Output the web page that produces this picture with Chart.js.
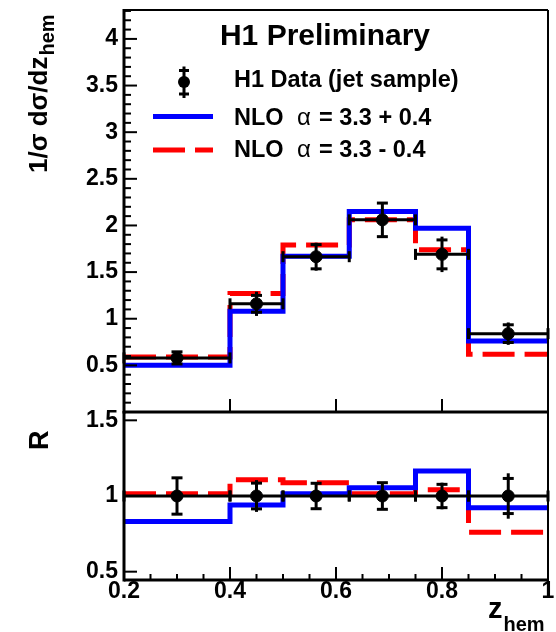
<!DOCTYPE html>
<html>
<head>
<meta charset="utf-8">
<script src="https://cdn.jsdelivr.net/npm/chart.js@4.4.0/dist/chart.umd.min.js"></script>
<style>
  body { margin: 0; background: #fff; }
  #wrap { position: relative; width: 556px; height: 632px; }
  canvas { position: absolute; left: 0; }
</style>
</head>
<body>
<div id="wrap">
  <canvas id="top" width="556" height="420" style="top:0"></canvas>
  <canvas id="ratio" width="556" height="232" style="top:400px"></canvas>
</div>
<script>
// z_hem bins
const binEdges = [0.2, 0.4, 0.5, 0.625, 0.75, 0.85, 1.0];
const binCenters = [0.3, 0.45, 0.5625, 0.6875, 0.8, 0.925];

// H1 data (jet sample)
const dataVals = [0.58, 1.16, 1.665, 2.06, 1.69, 0.84];
const dataStat = [0.065, 0.09, 0.13, 0.18, 0.155, 0.095];
const dataTot = [0.07, 0.13, 0.15, 0.185, 0.19, 0.12];

// NLO alpha = 3.3 +/- 0.4
const nloPlus = [0.50, 1.08, 1.67, 2.15, 1.97, 0.76];
const nloMinus = [0.59, 1.27, 1.79, 2.06, 1.74, 0.62];

// ratio panel
const ratioData = [1, 1, 1, 1, 1, 1];
const ratioStat = [0.12, 0.085, 0.084, 0.088, 0.077, 0.116];
const ratioTot = [0.12, 0.105, 0.084, 0.088, 0.088, 0.15];
const ratioPlus = [0.832, 0.94, 1.015, 1.055, 1.165, 0.922];
const ratioMinus = [1.015, 1.108, 1.088, 1.015, 1.042, 0.76];

// tick labels
const xTicks = [0.2, 0.4, 0.6, 0.8, 1];
const yTicksTop = [0.5, 1, 1.5, 2, 2.5, 3, 3.5, 4];
const yTicksRatio = [0.5, 1, 1.5];

const FONT = '"Liberation Sans", Arial, Helvetica, sans-serif';
const tickFont = { family: FONT, size: 23, weight: 'bold', lineHeight: 1 };

// histogram outline: one point per bin edge, stepped
function steps(vals) {
  return binEdges.map((e, i) => ({ x: e, y: vals[Math.min(i, vals.length - 1)] }));
}
function points(vals) {
  return binCenters.map((c, i) => ({ x: c, y: vals[i] }));
}

function line(ctx, x0, y0, x1, y1) {
  ctx.beginPath();
  ctx.moveTo(x0, y0);
  ctx.lineTo(x1, y1);
  ctx.stroke();
}

// x-bin lines + error bars for the data points
function drawErrors(chart, vals, stat, tot) {
  const { ctx, scales: { x, y } } = chart;
  ctx.save();
  ctx.strokeStyle = '#000';
  ctx.lineWidth = 3;
  binCenters.forEach((c, i) => {
    const px = x.getPixelForValue(c);
    const py = y.getPixelForValue(vals[i]);
    const x0 = x.getPixelForValue(binEdges[i]);
    const x1 = x.getPixelForValue(binEdges[i + 1]);
    line(ctx, x0, py, x1, py);
    line(ctx, x0, py - 5.5, x0, py + 5.5);
    line(ctx, x1, py - 5.5, x1, py + 5.5);
    line(ctx, px, y.getPixelForValue(vals[i] + tot[i]), px, y.getPixelForValue(vals[i] - tot[i]));
    const sUp = y.getPixelForValue(vals[i] + stat[i]);
    const sDn = y.getPixelForValue(vals[i] - stat[i]);
    line(ctx, px - 5.5, sUp, px + 5.5, sUp);
    line(ctx, px - 5.5, sDn, px + 5.5, sDn);
  });
  ctx.restore();
}

// ROOT style frame with inward ticks
function drawFrame(chart, o) {
  const { ctx, chartArea: a, scales: { x, y } } = chart;
  ctx.save();
  ctx.strokeStyle = '#000';
  ctx.lineWidth = 2;
  o.yMajor.forEach(v => {
    const py = y.getPixelForValue(v);
    line(ctx, a.left, py, a.left + 13, py);
  });
  if (o.yMinor) {
    for (let v = o.yMinor; v < y.max; v += o.yMinor) {
      const r = Math.round(v * 100) / 100;
      if (o.yMajor.includes(r)) continue;
      const py = y.getPixelForValue(r);
      line(ctx, a.left, py, a.left + 7, py);
    }
  }
  xTicks.forEach(v => {
    const px = x.getPixelForValue(v);
    line(ctx, px, a.bottom, px, a.bottom - 13);
  });
  if (o.xMinor) {
    for (let v = x.min + o.xMinor; v < x.max; v += o.xMinor) {
      const r = Math.round(v * 100) / 100;
      if (xTicks.includes(r)) continue;
      const px = x.getPixelForValue(r);
      line(ctx, px, a.bottom, px, a.bottom - 6);
    }
  }
  line(ctx, a.left, a.top, a.right, a.top);
  line(ctx, a.right, a.top, a.right, a.bottom);
  ctx.lineWidth = 3;
  line(ctx, a.left, a.top - 1, a.left, a.bottom + 1.5);
  line(ctx, a.left, a.bottom, a.right + 1, a.bottom);
  ctx.restore();
}

function baseOptions(yMin, yMax, yTicks, pad, xHeight, showX) {
  return {
    responsive: false,
    animation: false,
    devicePixelRatio: 1,
    layout: { padding: pad },
    plugins: { legend: { display: false }, tooltip: { enabled: false } },
    scales: {
      x: {
        type: 'linear', min: 0.2, max: 1,
        afterBuildTicks: s => { s.ticks = xTicks.map(v => ({ value: v })); },
        afterFit: s => { s.height = xHeight; s.paddingLeft = 0; s.paddingRight = 0; },
        grid: { display: false, drawTicks: false },
        border: { display: false },
        ticks: { display: showX, color: '#000', font: tickFont, padding: 0, maxRotation: 0, autoSkip: false, callback: v => String(v) }
      },
      y: {
        type: 'linear', min: yMin, max: yMax,
        afterBuildTicks: s => { s.ticks = yTicks.map(v => ({ value: v })); },
        afterFit: s => { s.width = 124; s.paddingTop = 0; s.paddingBottom = 0; },
        grid: { display: false, drawTicks: false },
        border: { display: false },
        ticks: { color: '#000', font: tickFont, padding: 6, callback: v => String(v) }
      }
    }
  };
}

const topDecor = {
  id: 'topDecor',
  afterDatasetsDraw(chart) {
    drawErrors(chart, dataVals, dataStat, dataTot);
    drawFrame(chart, { yMajor: yTicksTop, yMinor: 0.1 });
    const ctx = chart.ctx;
    ctx.save();
    ctx.fillStyle = '#000';
    ctx.textBaseline = 'alphabetic';
    // title
    ctx.textAlign = 'center';
    ctx.font = 'bold 30px ' + FONT;
    ctx.fillText('H1 Preliminary', 325, 45);
    // legend
    ctx.textAlign = 'left';
    ctx.font = 'bold 23.5px ' + FONT;
    ctx.fillText('H1 Data (jet sample)', 234, 87);
    const rows = [['NLO', '= 3.3 + 0.4', 125], ['NLO', '= 3.3 - 0.4', 157]];
    rows.forEach(r => {
      ctx.font = 'bold 23.5px ' + FONT;
      ctx.fillText(r[0], 234, r[2]);
      ctx.font = '24px ' + FONT;
      ctx.fillText('\u03b1', 297, r[2]);
      ctx.font = 'bold 23.5px ' + FONT;
      ctx.fillText(r[1], 319, r[2]);
    });
    ctx.lineWidth = 5;
    ctx.strokeStyle = '#0000ff';
    line(ctx, 153, 116.5, 213, 116.5);
    ctx.strokeStyle = '#ff0000';
    ctx.setLineDash([32, 10]);
    line(ctx, 153, 150, 213, 150);
    ctx.setLineDash([]);
    // legend data marker
    ctx.strokeStyle = '#000';
    ctx.lineWidth = 3;
    line(ctx, 184, 66.5, 184, 98);
    line(ctx, 179, 70.5, 189, 70.5);
    line(ctx, 179, 94, 189, 94);
    ctx.beginPath();
    ctx.arc(184, 82, 6, 0, Math.PI * 2);
    ctx.fill();
    // y title
    ctx.translate(47, 173);
    ctx.rotate(-Math.PI / 2);
    ctx.font = 'bold 26px ' + FONT;
    ctx.fillText('1/\u03c3 d\u03c3/dz', 0, 0);
    const w = ctx.measureText('1/\u03c3 d\u03c3/dz').width;
    ctx.font = 'bold 20px ' + FONT;
    ctx.fillText('hem', w + 1, 7);
    ctx.restore();
  }
};

const ratioDecor = {
  id: 'ratioDecor',
  afterDatasetsDraw(chart) {
    drawErrors(chart, ratioData, ratioStat, ratioTot);
    drawFrame(chart, { yMajor: yTicksRatio, xMinor: 0.05 });
    const ctx = chart.ctx;
    ctx.save();
    ctx.fillStyle = '#000';
    ctx.textAlign = 'left';
    ctx.textBaseline = 'alphabetic';
    ctx.font = 'bold 29px ' + FONT;
    ctx.fillText('z', 488, 218);
    const w = ctx.measureText('z').width;
    ctx.font = 'bold 20px ' + FONT;
    ctx.fillText('hem', 488 + w + 1, 231);
    ctx.translate(48, 50);
    ctx.rotate(-Math.PI / 2);
    ctx.font = 'bold 27px ' + FONT;
    ctx.fillText('R', 0, 0);
    ctx.restore();
  }
};

function datasets(plus, minus, vals) {
  return [
    { data: steps(plus), borderColor: '#0000ff', borderWidth: 5, stepped: true, pointRadius: 0, fill: false, order: 2 },
    { data: steps(minus), borderColor: '#ff0000', borderWidth: 5, borderDash: [32, 10], stepped: true, pointRadius: 0, fill: false, order: 3 },
    { data: points(vals), showLine: false, pointRadius: 6, pointBackgroundColor: '#000', pointBorderColor: '#000', pointBorderWidth: 1, order: 1 }
  ];
}

new Chart(document.getElementById('top'), {
  type: 'line',
  data: { datasets: datasets(nloPlus, nloMinus, dataVals) },
  options: baseOptions(0, 4.31, yTicksTop, { top: 10, right: 8, left: 0, bottom: 0 }, 8, false),
  plugins: [topDecor]
});

new Chart(document.getElementById('ratio'), {
  type: 'line',
  data: { datasets: datasets(ratioPlus, ratioMinus, ratioData) },
  options: baseOptions(0.445, 1.555, yTicksRatio, { top: 12, right: 8, left: 0, bottom: 0 }, 52, true),
  plugins: [ratioDecor]
});
</script>
</body>
</html>
